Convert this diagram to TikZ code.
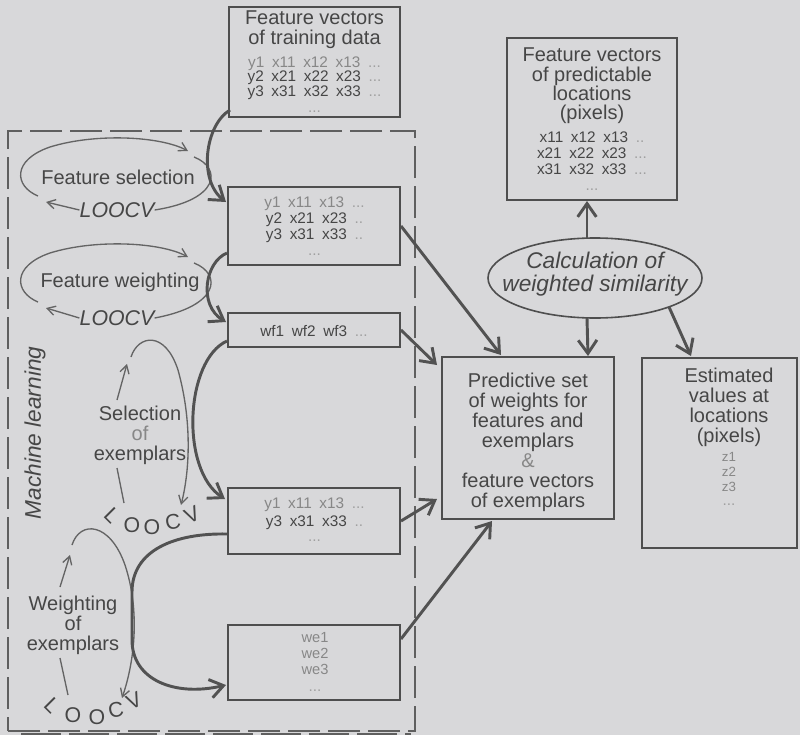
\documentclass[tikz,border=0pt]{standalone}
\usepackage{fontspec}
\setmainfont{Liberation Sans}
\usetikzlibrary{arrows.meta,shapes.geometric,fit,calc}
\definecolor{bg}{RGB}{216,216,218}
\definecolor{ink}{RGB}{70,70,70}
\definecolor{boxc}{RGB}{78,78,78}
\definecolor{linec}{RGB}{82,82,82}
\definecolor{loopc}{RGB}{100,100,100}
\definecolor{framec}{RGB}{95,95,95}
\definecolor{light}{RGB}{135,135,135}
\definecolor{faint}{RGB}{160,160,160}
\begin{document}
\begin{tikzpicture}[x=0.75pt,y=-0.75pt,
  box/.style={draw=boxc,line width=1.5pt,inner sep=0pt},
  ttl/.style={text=ink,font=\fontsize{15}{15}\selectfont,align=center,inner sep=0pt},
  dat/.style={text=ink,font=\fontsize{11.5}{11}\selectfont,align=center,inner sep=0pt},
  bigarrow/.style={draw=linec,line width=2.2pt,-{Straight Barb[length=10pt,width=14pt]}},
  loopline/.style={draw=loopc,line width=1pt},
  looparrow/.style={loopline,-{Straight Barb[length=6pt,width=7pt]}},
  loo/.style={text=ink,font=\fontsize{16}{16}\selectfont\itshape,inner sep=0pt},
  arcl/.style={text=ink,font=\fontsize{16}{16}\selectfont,inner sep=0pt}]
\fill[bg] (0,0) rectangle (800,735);
\useasboundingbox (0,0) rectangle (800,735);

% machine learning frame
\node[draw=framec,line width=1.1pt,dash pattern=on 24pt off 6pt,inner sep=0pt,fit={(8,131) (415,731)}] (ml) {};
\draw[framec,line width=2.5pt,dash pattern=on 30pt off 6pt] ($(ml.south west)+(14,3)$) -- ($(ml.south east)+(-5,3)$);
\node[text=ink,font=\fontsize{17}{17}\selectfont\itshape,rotate=90,inner sep=0pt] (mlt) at (35,433) {Machine learning};

% boxes
\node[box,fit={(229,7) (400,117)}] (b1) {};
\node[box,fit={(228,187) (400,265)}] (b2) {};
\node[box,fit={(228,313) (400,347)}] (b3) {};
\node[box,fit={(228,488) (400,554)}] (b4) {};
\node[box,fit={(228,625) (400,700)}] (b5) {};
\node[box,fit={(507,38) (677,200)}] (bp) {};
\node[box,fit={(442,357) (614,519)}] (bw) {};
\node[box,fit={(642,358) (797,548)}] (be) {};
\node[draw=boxc,line width=1.2pt,ellipse,minimum width=160.5pt,minimum height=60pt,inner sep=0pt] (el) at (595,278) {};

% box texts
\node[ttl] (t1) at (314.5,30) {Feature vectors\\of training data};
\node[dat,font=\fontsize{11.5}{10.9}\selectfont] (r1) at (314.5,78) {\textcolor{light}{y1\enspace x11\enspace x12\enspace x13\enspace \textcolor{faint}{...}}\\y2\enspace x21\enspace x22\enspace x23\enspace \textcolor{faint}{...}\\y3\enspace x31\enspace x32\enspace x33\enspace \textcolor{faint}{...}};
\node[dat,text=faint] (d1) at (314.5,112) {...};

\node[dat,font=\fontsize{11.5}{12}\selectfont] (r2) at (314.5,219.5) {\textcolor{light}{y1\enspace x11\enspace x13\enspace \textcolor{faint}{...}}\\y2\enspace x21\enspace x23\enspace \textcolor{faint}{..}\\y3\enspace x31\enspace x33\enspace \textcolor{faint}{..}};
\node[dat,text=faint] (d2) at (314.5,255) {...};

\node[dat] (r3) at (314,331) {wf1\enspace wf2\enspace wf3\enspace \textcolor{faint}{...}};

\node[dat,font=\fontsize{11.5}{13.5}\selectfont] (r4) at (314.5,514) {\textcolor{light}{y1\enspace x11\enspace x13\enspace \textcolor{faint}{...}}\\y3\enspace x31\enspace x33\enspace \textcolor{faint}{..}};
\node[dat,text=faint] (d4) at (314.5,541) {...};

\node[dat,text=light,font=\fontsize{11}{12}\selectfont] (r5) at (315,654) {we1\\we2\\we3};
\node[dat,text=faint] (d5) at (315,691) {...};

\node[ttl,font=\fontsize{15}{14.5}\selectfont] (tp) at (592,86) {Feature vectors\\of predictable\\locations\\(pixels)};
\node[dat,font=\fontsize{11.5}{12}\selectfont] (rp) at (592,153) {x11\enspace x12\enspace x13\enspace \textcolor{faint}{..}\\x21\enspace x22\enspace x23\enspace \textcolor{faint}{...}\\x31\enspace x32\enspace x33\enspace \textcolor{faint}{...}};
\node[dat,text=faint] (dp) at (592,190) {...};

\node[ttl] (tw) at (528,442) {Predictive set\\of weights for\\features and\\exemplars\\\textcolor{light}{\&}\\feature vectors\\of exemplars};

\node[ttl] (te) at (729,407) {Estimated\\values at\\locations\\(pixels)};
\node[dat,text=light,font=\fontsize{10}{11.25}\selectfont] (re) at (729,472) {z1\\z2\\z3};
\node[dat,text=faint] (de) at (729,505) {...};

\node[text=ink,font=\fontsize{17}{17}\selectfont\itshape,align=center,inner sep=0pt] (tel) at (595,274) {Calculation of\\weighted similarity};

% feature selection loop
\node[ttl] (fs) at (118,177) {Feature selection};
\node[loo] (lv1) at (117,210) {LOOCV};
\coordinate (fs1) at (38,196);
\coordinate (fs2) at (188,151);
\coordinate (fs3) at (194,157);
\coordinate (fs4) at (46,202);
\draw[looparrow] (fs1) .. controls (14,186) and (12,160) .. (50,147) .. controls (95,133) and (160,136) .. (fs2);
\draw[loopline] (fs3) .. controls (222,168) and (220,200) .. (lv1.east);
\draw[looparrow] (lv1.west) -- (fs4);

% feature weighting loop
\node[ttl] (fw) at (120,282) {Feature weighting};
\node[loo] (lv2) at (117,318) {LOOCV};
\coordinate (fw1) at (38,302);
\coordinate (fw2) at (188,257);
\coordinate (fw3) at (194,263);
\coordinate (fw4) at (46,308);
\draw[looparrow] (fw1) .. controls (14,292) and (12,266) .. (50,253) .. controls (95,239) and (160,242) .. (fw2);
\draw[loopline] (fw3) .. controls (222,274) and (220,306) .. (lv2.east);
\draw[looparrow] (lv2.west) -- (fw4);

% selection of exemplars loop
\node[ttl] (se) at (140,435) {Selection\\\textcolor{light}{of}\\exemplars};
\coordinate (se1) at (117,400);
\coordinate (se2) at (127,364);
\coordinate (se3) at (131,357);
\coordinate (se4) at (181,505);
\coordinate (se5) at (117,468);
\coordinate (se6) at (124,503);
\draw[looparrow] (se1) -- (se2);
\draw[looparrow] (se3) .. controls (138,335) and (165,330) .. (178,370) .. controls (192,420) and (190,470) .. (se4);
\draw[loopline] (se5) -- (se6);
\node[arcl,rotate=-45] (sl1) at (112,516) {L};
\node[arcl] (sl2) at (132,525) {O};
\node[arcl] (sl3) at (152,527) {O};
\node[arcl,rotate=10] (sl4) at (173,522) {C};
\node[arcl,rotate=25] (sl5) at (192,515) {V};

% weighting of exemplars loop
\node[ttl] (wx) at (73,625) {Weighting\\of\\exemplars};
\coordinate (we1) at (60,587);
\coordinate (we2) at (70,555);
\coordinate (we3) at (72,545);
\coordinate (we4) at (122,698);
\coordinate (we5) at (60,658);
\coordinate (we6) at (68,695);
\draw[looparrow] (we1) -- (we2);
\draw[looparrow] (we3) .. controls (80,520) and (110,522) .. (125,565) .. controls (140,610) and (135,660) .. (we4);
\draw[loopline] (we5) -- (we6);
\node[arcl,rotate=-45] (wl1) at (52,705) {L};
\node[arcl] (wl2) at (73,715) {O};
\node[arcl] (wl3) at (97,717) {O};
\node[arcl,rotate=10] (wl4) at (116,710) {C};
\node[arcl,rotate=25] (wl5) at (134,701) {V};

% thick connectors on the left
\draw[bigarrow] ($(b1.south west)+(2,-8)$) .. controls (205,125) and (198,180) .. ($(b2.north west)+(-1,16)$);
\draw[bigarrow] ($(b2.south west)+(0,-13)$) .. controls (205,262) and (198,305) .. ($(b3.north west)+(-1,10)$);
\draw[bigarrow] ($(b3.south west)+(0,-7)$) .. controls (185,360) and (180,470) .. ($(b4.north west)+(-2,12)$);
\draw[bigarrow] ($(b4.south west)+(0,-21)$) .. controls (175,533) and (132,550) .. (132,592) -- (132,640) .. controls (132,680) and (175,697) .. ($(b5.south west)+(-1,-16)$);

% connectors to the predictive set
\draw[bigarrow] (b2.east) -- ($(bw.north west)+(60,-1)$);
\draw[bigarrow] (b3.east) -- ($(bw.north west)+(-4,9)$);
\draw[bigarrow] (b4.east) -- ($(bw.south west)+(-4,-21)$);
\draw[bigarrow] ($(b5.north east)+(0,15)$) -- ($(bw.south west)+(51,1)$);

% connectors from the similarity ellipse
\draw[bigarrow] ($(el.north)+(-8,1)$) -- ($(bp.south)+(-5,0)$);
\draw[bigarrow] ($(el.south)+(-8,-1)$) -- ($(bw.north east)+(-27,0)$);
\draw[bigarrow] ($(el.center)+(74,29)$) -- ($(be.north west)+(50,-1)$);
\end{tikzpicture}
\end{document}
